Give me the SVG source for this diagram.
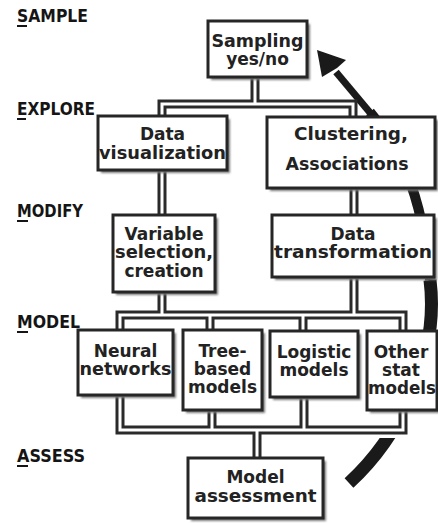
<svg xmlns="http://www.w3.org/2000/svg" width="438" height="523" viewBox="0 0 438 523">
<defs>
<style>
.lbl{font-family:"DejaVu Sans Condensed","DejaVu Sans",sans-serif;font-weight:bold;font-size:17px;fill:#151515}
.t{font-family:"DejaVu Sans","Liberation Sans",sans-serif;font-weight:bold;font-size:17px;fill:#222;text-anchor:middle}
.box{fill:#fff;stroke:#262626;stroke-width:3}
.sh{fill:#7a7a7a;filter:url(#blur)}
.po{fill:none;stroke:#2a2a2a;stroke-width:9;stroke-linejoin:miter}
.pi{fill:none;stroke:#fff;stroke-width:3;stroke-linejoin:miter}
.ul{stroke:#151515;stroke-width:2}
</style>
<filter id="blur" x="-10%" y="-10%" width="120%" height="120%"><feGaussianBlur stdDeviation="1"/></filter>
<mask id="arcmask"><rect x="0" y="0" width="438" height="523" fill="#fff"/><rect x="370" y="405" width="68" height="33" fill="#000"/></mask>
</defs>
<rect width="438" height="523" fill="#fff"/>

<g id="stage-labels">
<text class="lbl" x="17" y="22" textLength="71" lengthAdjust="spacingAndGlyphs">SAMPLE</text>
<line class="ul" x1="17" y1="26" x2="27" y2="26"/>
<text class="lbl" x="17" y="115" textLength="78" lengthAdjust="spacingAndGlyphs">EXPLORE</text>
<line class="ul" x1="17" y1="119" x2="26" y2="119"/>
<text class="lbl" x="17" y="217" textLength="66" lengthAdjust="spacingAndGlyphs">MODIFY</text>
<line class="ul" x1="17" y1="221" x2="28" y2="221"/>
<text class="lbl" x="17" y="328" textLength="63" lengthAdjust="spacingAndGlyphs">MODEL</text>
<line class="ul" x1="17" y1="332" x2="28" y2="332"/>
<text class="lbl" x="17" y="462" textLength="68" lengthAdjust="spacingAndGlyphs">ASSESS</text>
<line class="ul" x1="17" y1="466" x2="28" y2="466"/>
</g>

<g id="cycle-arrow">
<g mask="url(#arcmask)">
<path d="M 349 483 C 396 440, 440 360, 430 280" fill="none" stroke="#1a1a1a" stroke-width="13"/>
<path d="M 430 280 C 425 225, 414 165, 370 112" fill="none" stroke="#1a1a1a" stroke-width="10"/>
<path d="M 372 115 L 336 72" fill="none" stroke="#1a1a1a" stroke-width="7"/>
</g>
<polygon points="317,50 346,60 337,68 322,77" fill="#1a1a1a"/>
</g>

<g id="connectors">
<path class="po" d="M 162 117 V 104 H 353 V 117 M 255 78 V 104 M 162 170 V 215 M 354 188 V 215 M 162 292 V 315 M 354 277 V 315 M 120 330 V 315 H 403 V 331 M 210 315 V 330 M 303 315 V 331 M 120 395 V 430 H 403 V 410 M 212 410 V 430 M 304 397 V 430 M 257 430 V 458"/>
<path class="pi" d="M 162 117 V 104 H 353 V 117 M 255 78 V 104 M 162 170 V 215 M 354 188 V 215 M 162 292 V 315 M 354 277 V 315 M 120 330 V 315 H 403 V 331 M 210 315 V 330 M 303 315 V 331 M 120 395 V 430 H 403 V 410 M 212 410 V 430 M 304 397 V 430 M 257 430 V 458"/>
</g>

<g id="sampling">
<rect class="sh" x="211" y="24" width="99" height="56"/>
<rect class="box" x="208" y="21" width="99" height="56"/>
<text class="t" x="257.5" y="47" textLength="92" lengthAdjust="spacingAndGlyphs">Sampling</text>
<text class="t" x="257.5" y="65">yes/no</text>
</g>

<g id="data-visualization">
<rect class="sh" x="101" y="119" width="129" height="54"/>
<rect class="box" x="98" y="116" width="129" height="54"/>
<text class="t" x="162.5" y="140">Data</text>
<text class="t" x="162.5" y="159" textLength="127" lengthAdjust="spacingAndGlyphs">visualization</text>
</g>

<g id="clustering">
<rect class="sh" x="270" y="120" width="168" height="71"/>
<rect class="box" x="267" y="117" width="168" height="71"/>
<text class="t" x="351" y="140" textLength="114" lengthAdjust="spacingAndGlyphs">Clustering,</text>
<text class="t" x="347" y="170" textLength="123" lengthAdjust="spacingAndGlyphs">Associations</text>
</g>

<g id="variable-selection">
<rect class="sh" x="116" y="218" width="102" height="77"/>
<rect class="box" x="113" y="215" width="102" height="77"/>
<text class="t" x="164" y="240">Variable</text>
<text class="t" x="164" y="258" textLength="98" lengthAdjust="spacingAndGlyphs">selection,</text>
<text class="t" x="164" y="277">creation</text>
</g>

<g id="data-transformation">
<rect class="sh" x="275" y="218" width="162" height="62"/>
<rect class="box" x="272" y="215" width="162" height="62"/>
<text class="t" x="353" y="240">Data</text>
<text class="t" x="353" y="258" textLength="158" lengthAdjust="spacingAndGlyphs">transformation</text>
</g>

<g id="neural-networks">
<rect class="sh" x="81" y="333" width="95" height="65"/>
<rect class="box" x="78" y="330" width="95" height="65"/>
<text class="t" x="125.5" y="357">Neural</text>
<text class="t" x="125.5" y="375" textLength="92" lengthAdjust="spacingAndGlyphs">networks</text>
</g>

<g id="tree-based-models">
<rect class="sh" x="186" y="333" width="79" height="80"/>
<rect class="box" x="183" y="330" width="79" height="80"/>
<text class="t" x="222.5" y="357">Tree-</text>
<text class="t" x="222.5" y="375">based</text>
<text class="t" x="222.5" y="393">models</text>
</g>

<g id="logistic-models">
<rect class="sh" x="273" y="334" width="88" height="66"/>
<rect class="box" x="270" y="331" width="88" height="66"/>
<text class="t" x="314" y="358">Logistic</text>
<text class="t" x="314" y="376">models</text>
</g>

<g id="other-stat-models">
<rect class="sh" x="370" y="334" width="70" height="79"/>
<rect class="box" x="367" y="331" width="70" height="79"/>
<text class="t" x="401" y="358">Other</text>
<text class="t" x="401" y="376">stat</text>
<text class="t" x="402" y="394" textLength="68" lengthAdjust="spacingAndGlyphs">models</text>
</g>

<g id="model-assessment">
<rect class="sh" x="191" y="461" width="135" height="60"/>
<rect class="box" x="188" y="458" width="135" height="60"/>
<text class="t" x="255.5" y="483">Model</text>
<text class="t" x="255.5" y="502" textLength="122" lengthAdjust="spacingAndGlyphs">assessment</text>
</g>
</svg>
